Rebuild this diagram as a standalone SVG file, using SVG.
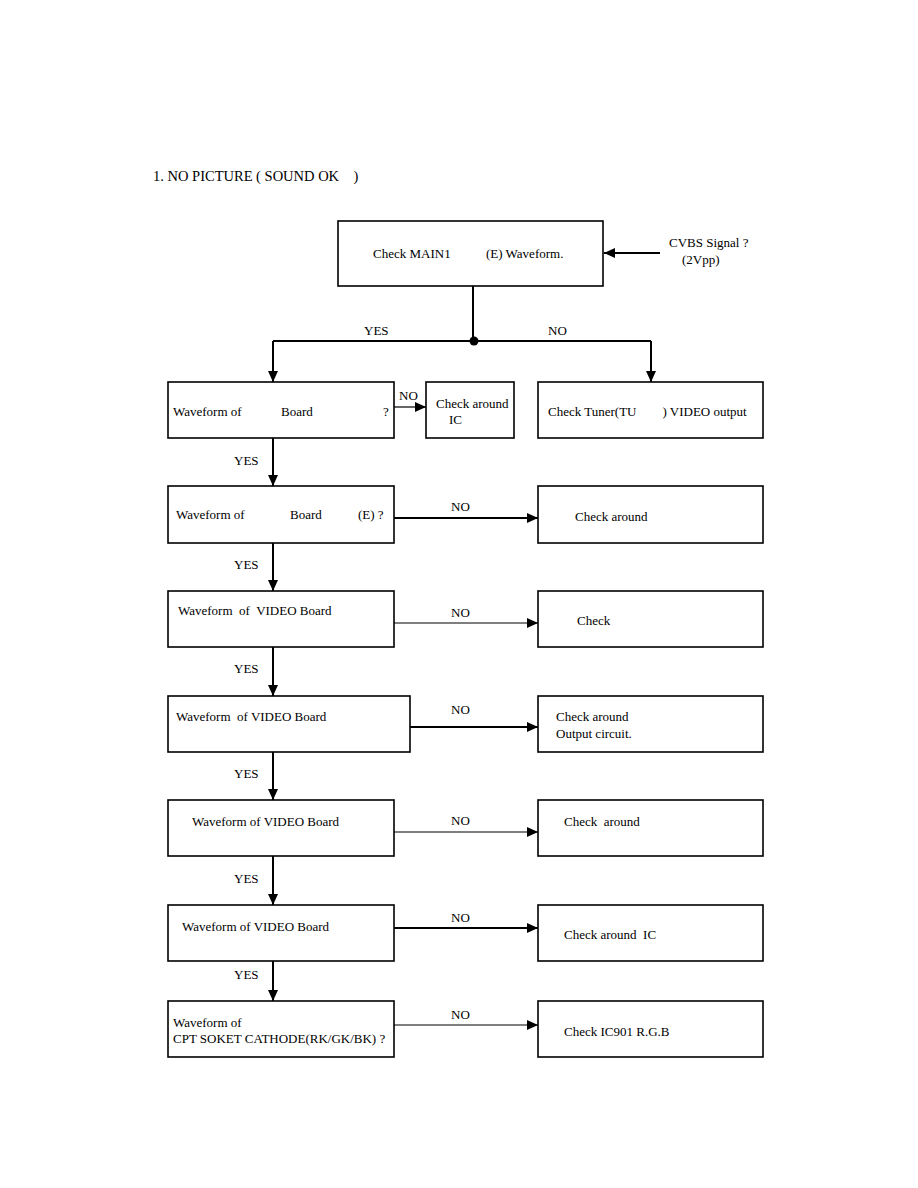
<svg xmlns="http://www.w3.org/2000/svg" width="918" height="1188" viewBox="0 0 918 1188">
<defs>
<marker id="ah" markerWidth="11" markerHeight="10" refX="11" refY="5" orient="auto" markerUnits="userSpaceOnUse"><path d="M0,0 L11,5 L0,10 Z" fill="#000"/></marker>
<style>
text{font-family:"Liberation Serif","Times New Roman",serif;font-size:13px;fill:#000;white-space:pre}
.t{font-size:14.5px}
.b{fill:#fff;stroke:#000;stroke-width:1.6}
.c{fill:none;stroke:#000;stroke-width:2}
.c1{fill:none;stroke:#000;stroke-width:1.2}
</style>
</defs>
<rect width="918" height="1188" fill="#fff"/>
<text class="t" x="153" y="181" xml:space="preserve">1. NO PICTURE ( SOUND OK    )</text>
<g id="connectors">
<line class="c" x1="660" y1="253" x2="604" y2="253" marker-end="url(#ah)"/>
<line class="c" x1="473" y1="286" x2="473" y2="341"/>
<circle cx="474" cy="341" r="4.5" fill="#000"/>
<polyline class="c" points="273,341 651,341"/>
<line class="c" x1="273" y1="341" x2="273" y2="382" marker-end="url(#ah)"/>
<line class="c" x1="651" y1="341" x2="651" y2="382" marker-end="url(#ah)"/>
<text x="364" y="335">YES</text>
<text x="548" y="335">NO</text>
<line class="c1" x1="394" y1="407" x2="426" y2="407" marker-end="url(#ah)"/>
<text x="399" y="400">NO</text>
<line class="c" x1="273" y1="438" x2="273" y2="486" marker-end="url(#ah)"/>
<text x="234" y="465">YES</text>
<line class="c" x1="394" y1="518" x2="538" y2="518" marker-end="url(#ah)"/>
<text x="451" y="511">NO</text>
<line class="c" x1="273" y1="543" x2="273" y2="591" marker-end="url(#ah)"/>
<text x="234" y="569">YES</text>
<line class="c1" x1="394" y1="623" x2="538" y2="623" marker-end="url(#ah)"/>
<text x="451" y="617">NO</text>
<line class="c" x1="273" y1="647" x2="273" y2="696" marker-end="url(#ah)"/>
<text x="234" y="673">YES</text>
<line class="c" x1="410" y1="727" x2="538" y2="727" marker-end="url(#ah)"/>
<text x="451" y="714">NO</text>
<line class="c" x1="273" y1="752" x2="273" y2="800" marker-end="url(#ah)"/>
<text x="234" y="778">YES</text>
<line class="c1" x1="394" y1="832" x2="538" y2="832" marker-end="url(#ah)"/>
<text x="451" y="825">NO</text>
<line class="c" x1="273" y1="856" x2="273" y2="905" marker-end="url(#ah)"/>
<text x="234" y="883">YES</text>
<line class="c" x1="394" y1="928" x2="538" y2="928" marker-end="url(#ah)"/>
<text x="451" y="922">NO</text>
<line class="c" x1="273" y1="961" x2="273" y2="1001" marker-end="url(#ah)"/>
<text x="234" y="979">YES</text>
<line class="c1" x1="394" y1="1025" x2="538" y2="1025" marker-end="url(#ah)"/>
<text x="451" y="1019">NO</text>
</g>
<g id="n0"><rect class="b" x="338" y="221" width="265" height="65"/><text x="373" y="258">Check MAIN1</text><text x="486" y="258">(E) Waveform.</text></g>
<g id="n0s"><text x="669" y="247">CVBS Signal ?</text><text x="682" y="264">(2Vpp)</text></g>
<g id="n1"><rect class="b" x="168" y="382" width="226" height="56"/><text x="173" y="416">Waveform of</text><text x="281" y="416">Board</text><text x="383" y="416">?</text></g>
<g id="n1b"><rect class="b" x="426" y="382" width="88" height="56"/><text x="436" y="408">Check around</text><text x="449" y="424">IC</text></g>
<g id="n1c"><rect class="b" x="538" y="382" width="225" height="56"/><text x="548" y="416" xml:space="preserve">Check Tuner(TU        ) VIDEO output</text></g>
<g id="n2"><rect class="b" x="168" y="486" width="226" height="57"/><text x="176" y="519">Waveform of</text><text x="290" y="519">Board</text><text x="358" y="519">(E) ?</text></g>
<g id="n2b"><rect class="b" x="538" y="486" width="225" height="57"/><text x="575" y="521">Check around</text></g>
<g id="n3"><rect class="b" x="168" y="591" width="226" height="56"/><text x="178" y="615" xml:space="preserve">Waveform  of  VIDEO Board</text></g>
<g id="n3b"><rect class="b" x="538" y="591" width="225" height="56"/><text x="577" y="625">Check</text></g>
<g id="n4"><rect class="b" x="168" y="696" width="242" height="56"/><text x="176" y="721" xml:space="preserve">Waveform  of VIDEO Board</text></g>
<g id="n4b"><rect class="b" x="538" y="696" width="225" height="56"/><text x="556" y="721">Check around</text><text x="556" y="738">Output circuit.</text></g>
<g id="n5"><rect class="b" x="168" y="800" width="226" height="56"/><text x="192" y="826">Waveform of VIDEO Board</text></g>
<g id="n5b"><rect class="b" x="538" y="800" width="225" height="56"/><text x="564" y="826" xml:space="preserve">Check  around</text></g>
<g id="n6"><rect class="b" x="168" y="905" width="226" height="56"/><text x="182" y="931">Waveform of VIDEO Board</text></g>
<g id="n6b"><rect class="b" x="538" y="905" width="225" height="56"/><text x="564" y="939" xml:space="preserve">Check around  IC</text></g>
<g id="n7"><rect class="b" x="168" y="1001" width="226" height="56"/><text x="173" y="1027">Waveform of</text><text x="173" y="1043">CPT SOKET CATHODE(RK/GK/BK) ?</text></g>
<g id="n7b"><rect class="b" x="538" y="1001" width="225" height="56"/><text x="564" y="1036">Check IC901 R.G.B</text></g>
</svg>
